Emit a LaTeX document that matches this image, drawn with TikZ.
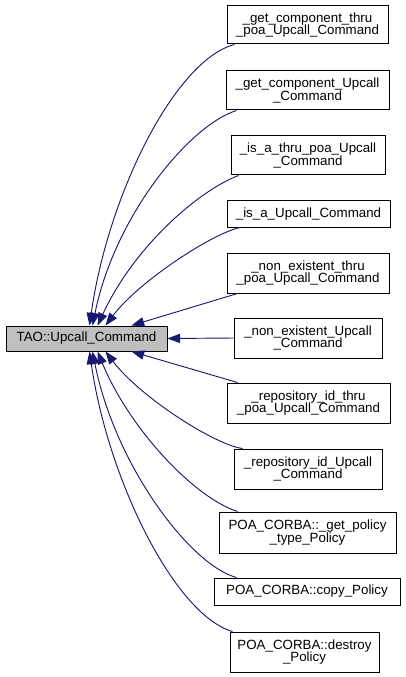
\documentclass[tikz,border=0pt]{standalone}
\usepackage{fontspec}
\setmainfont{Liberation Sans}
\usetikzlibrary{arrows.meta,calc}
\definecolor{edgeblue}{HTML}{191970}
\definecolor{mainfill}{HTML}{BFBFBF}
\newdimen\pxu \pxu=0.75pt
\tikzset{
 cls/.style={draw=black, line width=0.75pt, inner sep=0pt, align=center, font=\fontsize{10}{9.5}\selectfont, minimum height=39\pxu},
 edge/.style={draw=edgeblue, line width=0.7pt, -{Triangle[length=9.5pt,width=7pt]}},
}
\begin{document}
\begin{tikzpicture}[x=0.75pt,y=-0.75pt]
\useasboundingbox (0,0) rectangle (405,677);
\node[cls, fill=mainfill, minimum width=161\pxu, minimum height=25\pxu] (main) at (86.5,338.5) {TAO::Upcall\_Command};
\node[cls, minimum width=161\pxu, minimum height=38\pxu] (b1) at (307.5,25) {\_get\_component\_thru\\\_poa\_Upcall\_Command};
\node[cls, minimum width=163\pxu] (b2) at (307.5,90.5) {\_get\_component\_Upcall\\\_Command};
\node[cls, minimum width=154\pxu] (b3) at (308,155.5) {\_is\_a\_thru\_poa\_Upcall\\\_Command};
\node[cls, minimum width=163\pxu, minimum height=26\pxu] (b4) at (308.5,214) {\_is\_a\_Upcall\_Command};
\node[cls, minimum width=162\pxu, minimum height=40\pxu] (b5) at (308,273) {\_non\_existent\_thru\\\_poa\_Upcall\_Command};
\node[cls, minimum width=148\pxu, minimum height=40\pxu] (b6) at (308,338) {\_non\_existent\_Upcall\\\_Command};
\node[cls, minimum width=163\pxu, minimum height=40\pxu] (b7) at (308.5,403) {\_repository\_id\_thru\\\_poa\_Upcall\_Command};
\node[cls, minimum width=148\pxu, minimum height=40\pxu] (b8) at (308,469) {\_repository\_id\_Upcall\\\_Command};
\node[cls, minimum width=177\pxu, minimum height=41\pxu] (b9) at (307.5,532.5) {POA\_CORBA::\_get\_policy\\\_type\_Policy};
\node[cls, minimum width=186\pxu, minimum height=27\pxu] (b10) at (307,591.5) {POA\_CORBA::copy\_Policy};
\node[cls, minimum width=149\pxu, minimum height=40\pxu] (b11) at (304.5,652) {POA\_CORBA::destroy\\\_Policy};
% tips on main
\coordinate (t1) at ($(main.north west)+(84,0)$);
\coordinate (t2) at ($(main.north west)+(87,0)$);
\coordinate (t3) at ($(main.north west)+(92,0)$);
\coordinate (t4) at ($(main.north west)+(100,0)$);
\coordinate (t5) at ($(main.north west)+(126,0)$);
\coordinate (t7) at ($(main.south west)+(126,0)$);
\coordinate (t8) at ($(main.south west)+(100,0)$);
\coordinate (t9) at ($(main.south west)+(92,0)$);
\coordinate (t10) at ($(main.south west)+(87,0)$);
\coordinate (t11) at ($(main.south west)+(84,0)$);
% starts on children
\coordinate (s1) at ($(b1.south west)+(8,0)$);
\coordinate (s2) at ($(b2.south west)+(11,0)$);
\coordinate (s3) at ($(b3.south west)+(8,0)$);
\coordinate (s4) at ($(b4.south west)+(14,0)$);
\coordinate (s5) at ($(b5.south west)+(11,0)$);
\coordinate (s7) at ($(b7.north west)+(11,0)$);
\coordinate (s8) at ($(b8.north west)+(9,0)$);
\coordinate (s9) at ($(b9.north west)+(19,0)$);
\coordinate (s10) at ($(b10.north west)+(23,0)$);
\coordinate (s11) at ($(b11.north west)+(3,0)$);
% edges
\draw[edge] (s1) .. controls (175,60) and (108,195) .. (t1);
\draw[edge] (s2) .. controls (190,125) and (115,215) .. (t2);
\draw[edge] (s3) .. controls (200,190) and (135,245) .. (t3);
\draw[edge] (s4) .. controls (215,232) and (140,280) .. (t4);
\draw[edge] (s5) -- (t5);
\draw[edge] (b6.west) -- (main.east);
\draw[edge] (s7) -- (t7);
\draw[edge] (s8) .. controls (215,445) and (140,397) .. (t8);
\draw[edge] (s9) .. controls (195,498) and (130,430) .. (t9);
\draw[edge] (s10) .. controls (190,565) and (115,465) .. (t10);
\draw[edge] (s11) .. controls (175,615) and (108,480) .. (t11);
\end{tikzpicture}
\end{document}
